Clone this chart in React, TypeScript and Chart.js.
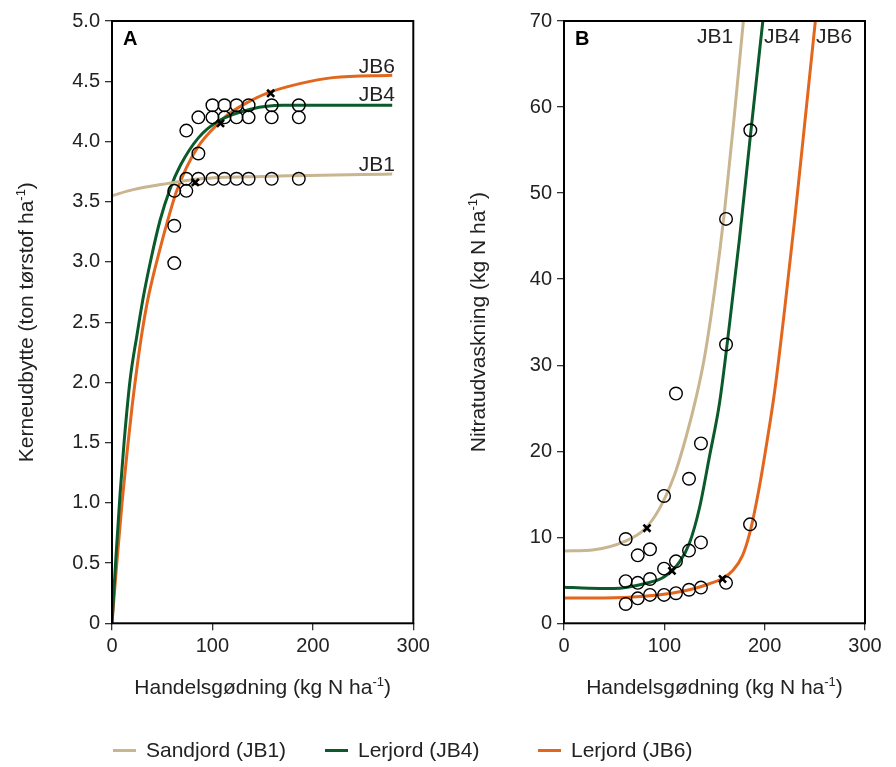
import React, { useEffect, useRef } from "react";
import { Chart, registerables } from "chart.js";
Chart.register(...registerables);

const FONT = "'Liberation Sans', Arial, Helvetica, sans-serif";
const TEXT = "#222";
const TAN = "#c9b58f";
const GREEN = "#0b5a2b";
const ORANGE = "#e2661c";

// ---------- shared ----------
const nTicks = [0, 100, 200, 300];

// ---------- Panel A: yield ----------
const yieldTicks = [0, 0.5, 1.0, 1.5, 2.0, 2.5, 3.0, 3.5, 4.0, 4.5, 5.0];

const yieldObsN = [100, 112, 124, 136, 159, 186, 86, 100, 112, 124, 136, 159, 186, 74, 86, 74, 86, 100, 112, 124, 136, 159, 186, 62, 74, 62, 62];
const yieldObs = [4.3, 4.3, 4.3, 4.3, 4.3, 4.3, 4.2, 4.2, 4.2, 4.2, 4.2, 4.2, 4.2, 4.09, 3.9, 3.69, 3.69, 3.69, 3.69, 3.69, 3.69, 3.69, 3.69, 3.59, 3.59, 3.3, 2.99];

const yieldOptN = [83, 108, 158];
const yieldOpt = [3.66, 4.15, 4.4];

const jb1YieldN = [0, 21, 54.5, 87.6, 150, 279];
const jb1Yield = [3.55, 3.6, 3.65, 3.69, 3.71, 3.73];

const jb4YieldN = [0, 4, 8, 12, 18, 25, 31, 39, 48, 58, 68, 86, 106, 139, 170, 279];
const jb4Yield = [0, 0.56, 1.07, 1.5, 2.02, 2.4, 2.7, 3.03, 3.35, 3.61, 3.8, 4.03, 4.17, 4.27, 4.3, 4.3];

const jb6YieldN = [0, 5, 10, 15, 20, 25, 30, 35, 40, 46, 55, 64, 74, 86, 100, 115, 134, 154, 187, 220, 279];
const jb6Yield = [0, 0.52, 1.0, 1.42, 1.8, 2.13, 2.42, 2.66, 2.85, 3.05, 3.33, 3.58, 3.78, 3.96, 4.1, 4.22, 4.32, 4.4, 4.48, 4.53, 4.55];

// ---------- Panel B: nitrate leaching ----------
const leachTicks = [0, 10, 20, 30, 40, 50, 60, 70];

const leachObsN = [161.5, 185.7, 161.5, 111.6, 136.5, 124.6, 99.7, 61.5, 73.5, 85.7, 136.5, 124.6, 111.6, 99.7, 185.4, 61.5, 73.5, 85.7, 161.5, 61.5, 73.5, 85.7, 99.7, 111.6, 124.6, 136.5];
const leachObs = [32.4, 57.3, 47.0, 26.7, 20.9, 16.8, 14.8, 9.8, 7.9, 8.6, 9.4, 8.45, 7.2, 6.35, 11.5, 4.9, 4.7, 5.15, 4.7, 2.25, 2.9, 3.3, 3.3, 3.5, 3.9, 4.15];

const leachOptN = [82.7, 107.6, 158];
const leachOpt = [11.05, 6.1, 5.15];

const jb1LeachN = [0, 30, 60, 80, 95, 110, 122, 132, 140, 150, 160, 170, 180];
const jb1Leach = [8.4, 8.55, 9.5, 10.9, 13.3, 17.2, 21.8, 26.4, 30.9, 38.6, 47.9, 59.3, 71.5];

const jb4LeachN = [0, 25, 50, 80, 100, 115, 125, 135, 145, 155, 165, 175, 185, 195, 201];
const jb4Leach = [4.2, 4.08, 4.05, 4.6, 5.4, 7.1, 9.3, 13.4, 19.4, 25.6, 34.8, 44.8, 55.8, 66.6, 73.0];

const jb6LeachN = [0, 40, 80, 110, 130, 145, 158, 168, 178, 186, 194, 202, 210, 220, 230, 240, 250, 254];
const jb6Leach = [2.94, 2.95, 3.14, 3.55, 4.05, 4.6, 5.2, 6.1, 7.9, 10.9, 15.4, 20.9, 27.0, 36.6, 47.0, 58.2, 69.4, 73.8];

const legendLabels = ["Sandjord (JB1)", "Lerjord (JB4)", "Lerjord (JB6)"];
const legendColors = [TAN, GREEN, ORANGE];

const pts = (xs: number[], ys: number[]) => xs.map((x, i) => ({ x, y: ys[i] }));

function drawSupText(
  ctx: CanvasRenderingContext2D,
  main: string,
  sup: string,
  tail: string,
  cx: number,
  cy: number,
  rotate: boolean
) {
  const mainFont = `21px ${FONT}`;
  const supFont = `13px ${FONT}`;
  ctx.save();
  ctx.font = mainFont;
  const w1 = ctx.measureText(main).width;
  const w3 = ctx.measureText(tail).width;
  ctx.font = supFont;
  const w2 = ctx.measureText(sup).width;
  const total = w1 + w2 + w3;
  ctx.translate(cx, cy);
  if (rotate) ctx.rotate(-Math.PI / 2);
  ctx.fillStyle = TEXT;
  ctx.textBaseline = "alphabetic";
  ctx.textAlign = "left";
  let x = -total / 2;
  ctx.font = mainFont;
  ctx.fillText(main, x, 7);
  x += w1;
  ctx.font = supFont;
  ctx.fillText(sup, x, -1);
  x += w2;
  ctx.font = mainFont;
  ctx.fillText(tail, x, 7);
  ctx.restore();
}

type Lbl = { text: string; dx: number; by: number; align: CanvasTextAlign };

function makeConfig(panel: "A" | "B"): any {
  const isA = panel === "A";
  const curves = isA
    ? [pts(jb1YieldN, jb1Yield), pts(jb4YieldN, jb4Yield), pts(jb6YieldN, jb6Yield)]
    : [pts(jb1LeachN, jb1Leach), pts(jb4LeachN, jb4Leach), pts(jb6LeachN, jb6Leach)];
  const obs = isA ? pts(yieldObsN, yieldObs) : pts(leachObsN, leachObs);
  const opt = isA ? pts(yieldOptN, yieldOpt) : pts(leachOptN, leachOpt);
  const yTicks = isA ? yieldTicks : leachTicks;
  const yAxisWidth = isA ? 112 : 116;
  const rightPad = isA ? 34.7 : 31;

  const labels: Lbl[] = isA
    ? [
        { text: "JB6", dx: 283, by: 73, align: "right" },
        { text: "JB4", dx: 283, by: 101, align: "right" },
        { text: "JB1", dx: 283, by: 171, align: "right" },
      ]
    : [
        { text: "JB1", dx: 133, by: 43, align: "left" },
        { text: "JB4", dx: 200, by: 43, align: "left" },
        { text: "JB6", dx: 252, by: 43, align: "left" },
      ];

  const decor = {
    id: "decor" + panel,
    afterDraw(chart: any) {
      const { ctx, chartArea } = chart;
      const { left, right, top, bottom } = chartArea;
      ctx.save();
      ctx.strokeStyle = "#000";
      ctx.lineWidth = 2;
      ctx.strokeRect(left, top, right - left, bottom - top);
      ctx.fillStyle = "#000";
      ctx.font = `bold 20px ${FONT}`;
      ctx.textAlign = "left";
      ctx.textBaseline = "alphabetic";
      ctx.fillText(panel, left + 11, top + 24);
      ctx.font = `21px ${FONT}`;
      ctx.fillStyle = TEXT;
      for (const l of labels) {
        ctx.textAlign = l.align;
        ctx.fillText(l.text, left + l.dx, l.by);
      }
      ctx.restore();
      const cxMid = (left + right) / 2;
      drawSupText(ctx, "Handelsgødning (kg N ha", "-1", ")", cxMid, 687, false);
      drawSupText(
        ctx,
        isA ? "Kerneudbytte (ton tørstof ha" : "Nitratudvaskning (kg N ha",
        "-1",
        ")",
        left - 86,
        (top + bottom) / 2,
        true
      );
    },
  };

  const tickFont = { family: FONT, size: 20 };

  return {
    type: "line",
    data: {
      datasets: [
        ...curves.map((c, i) => ({
          type: "line",
          data: c,
          borderColor: legendColors[i],
          borderWidth: 3,
          pointRadius: 0,
          cubicInterpolationMode: "monotone",
          fill: false,
          order: 3,
        })),
        {
          type: "scatter",
          data: obs,
          showLine: false,
          pointStyle: "circle",
          pointRadius: 6.3,
          borderColor: "#000",
          borderWidth: 1.4,
          backgroundColor: "rgba(0,0,0,0)",
          order: 2,
        },
        {
          type: "scatter",
          data: opt,
          showLine: false,
          pointStyle: "crossRot",
          pointRadius: 5,
          borderColor: "#000",
          borderWidth: 2.6,
          order: 1,
        },
      ],
    },
    options: {
      animation: false,
      responsive: false,
      maintainAspectRatio: false,
      layout: { padding: { top: 21, right: rightPad, left: 0, bottom: 0 } },
      plugins: { legend: { display: false }, tooltip: { enabled: false } },
      scales: {
        x: {
          type: "linear",
          min: 0,
          max: 300,
          afterBuildTicks: (s: any) => {
            s.ticks = nTicks.map((v) => ({ value: v }));
          },
          afterFit: (s: any) => {
            s.height = 767 - 623.3;
          },
          ticks: { font: tickFont, color: TEXT, padding: 4, maxRotation: 0, autoSkip: false },
          grid: { display: true, drawOnChartArea: false, drawTicks: true, tickLength: 7, color: "#333", lineWidth: 1.3 },
          border: { display: false },
        },
        y: {
          type: "linear",
          min: yTicks[0],
          max: yTicks[yTicks.length - 1],
          afterBuildTicks: (s: any) => {
            s.ticks = yTicks.map((v) => ({ value: v }));
          },
          afterFit: (s: any) => {
            s.width = yAxisWidth;
          },
          ticks: {
            font: tickFont,
            color: TEXT,
            padding: 5,
            autoSkip: false,
            callback: (v: any) => (isA ? (v === 0 ? "0" : Number(v).toFixed(1)) : String(v)),
          },
          grid: { display: true, drawOnChartArea: false, drawTicks: true, tickLength: 7, color: "#333", lineWidth: 1.3 },
          border: { display: false },
        },
      },
    },
    plugins: [decor],
  };
}

function Panel({ panel, left }: { panel: "A" | "B"; left: number }) {
  const ref = useRef<HTMLCanvasElement | null>(null);
  useEffect(() => {
    if (!ref.current) return;
    const chart = new Chart(ref.current, makeConfig(panel));
    return () => chart.destroy();
  }, [panel]);
  return (
    <canvas
      ref={ref}
      width={448}
      height={767}
      style={{ position: "absolute", left, top: 0, width: 448, height: 767 }}
    />
  );
}

export default function App() {
  const legendLeft = [113, 325, 538];
  return (
    <div style={{ position: "absolute", left: 0, top: 0, width: 896, height: 767, background: "#fff", overflow: "hidden" }}>
      <Panel panel="A" left={0} />
      <Panel panel="B" left={448} />
      {legendLabels.map((t, i) => (
        <div
          key={t}
          style={{
            position: "absolute",
            left: legendLeft[i],
            top: 737,
            height: 26,
            display: "flex",
            alignItems: "center",
            fontFamily: FONT,
            fontSize: 21,
            color: TEXT,
            whiteSpace: "nowrap",
          }}
        >
          <span style={{ display: "inline-block", width: 23, height: 3, background: legendColors[i], marginRight: 10 }} />
          <span>{t}</span>
        </div>
      ))}
    </div>
  );
}
